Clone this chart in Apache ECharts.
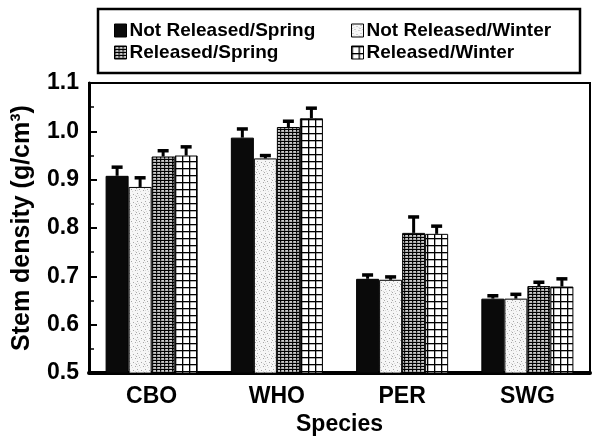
<!DOCTYPE html>
<html>
<head>
<meta charset="utf-8">
<script src="https://cdn.jsdelivr.net/npm/echarts@6/dist/echarts.min.js"></script>
<style>html,body{margin:0;padding:0;background:#fff}#c{width:593px;height:441px}</style>
</head>
<body>
<div id="c"></div>
<script>
// ---- data ----
const categories = ['CBO', 'WHO', 'PER', 'SWG'];
const seriesNames = ['Not Released/Spring', 'Not Released/Winter', 'Released/Spring', 'Released/Winter'];
const notReleasedSpring = [0.908, 0.987, 0.695, 0.654];
const notReleasedWinter = [0.885, 0.944, 0.693, 0.654];
const releasedSpring    = [0.948, 1.009, 0.790, 0.680];
const releasedWinter    = [0.950, 1.027, 0.788, 0.679];
const errNotReleasedSpring = [0.020, 0.020, 0.010, 0.008];
const errNotReleasedWinter = [0.021, 0.008, 0.008, 0.011];
const errReleasedSpring    = [0.014, 0.014, 0.035, 0.010];
const errReleasedWinter    = [0.020, 0.023, 0.018, 0.018];
const yTicks = ['0.5', '0.6', '0.7', '0.8', '0.9', '1.0', '1.1'];

const values = [notReleasedSpring, notReleasedWinter, releasedSpring, releasedWinter];
const errors = [errNotReleasedSpring, errNotReleasedWinter, errReleasedSpring, errReleasedWinter];

// ---- patterns ----
function makePattern(w, h, draw) {
  const c = document.createElement('canvas');
  c.width = w; c.height = h;
  const ctx = c.getContext('2d');
  ctx.fillStyle = '#fff'; ctx.fillRect(0, 0, w, h);
  draw(ctx);
  return { image: c, repeat: 'repeat' };
}
const patLight = makePattern(8, 8, ctx => {
  ctx.fillStyle = '#f6f6f6'; ctx.fillRect(0, 0, 8, 8);
  ctx.fillStyle = '#a8a8a8';
  [[1,1],[5,2],[3,5],[7,6],[0,4]].forEach(p => ctx.fillRect(p[0], p[1], 1, 1));
  ctx.fillStyle = '#d8d8d8';
  [[2,3],[4,7],[7,3],[1,6]].forEach(p => ctx.fillRect(p[0], p[1], 1, 1));
});
const patFine = makePattern(4, 3, ctx => {
  ctx.fillStyle = '#000';
  ctx.fillRect(0, 0, 4, 1.2);
  ctx.fillRect(0, 0, 1.2, 3);
  ctx.fillStyle = '#666';
  ctx.fillRect(0, 2, 4, 0.5);
});
const patGrid = makePattern(7, 7, ctx => {
  ctx.fillStyle = '#000';
  ctx.fillRect(0, 0, 7, 1.3);
  ctx.fillRect(0, 0, 1.3, 7);
});
const fills = ['#0a0a0a', patLight, patFine, patGrid];

const FONT = 'Liberation Sans';
const CAT_GAP = 0.265;

const barSeries = seriesNames.map((name, i) => ({
  name: name,
  type: 'bar',
  data: values[i],
  barGap: '0%',
  barCategoryGap: (CAT_GAP * 100) + '%',
  itemStyle: { color: fills[i], borderColor: '#000', borderWidth: 1 },
  z: 2
}));

const errData = [];
values.forEach((arr, si) => arr.forEach((v, ci) => errData.push([ci, si, v, errors[si][ci]])));

const errSeries = {
  type: 'custom',
  name: 'err',
  data: errData,
  encode: { x: 0, y: 2 },
  z: 5,
  renderItem: function (params, api) {
    const ci = api.value(0), si = api.value(1), v = api.value(2), e = api.value(3);
    const base = api.coord([ci, v]);
    const top = api.coord([ci, v + e]);
    const catW = api.size([1, 0])[0];
    const bw = catW * (1 - CAT_GAP) / 4;
    const x = base[0] + (si - 1.5) * bw;
    return {
      type: 'group',
      children: [
        { type: 'line', shape: { x1: x, y1: base[1], x2: x, y2: top[1] }, style: { stroke: '#000', lineWidth: 3 } },
        { type: 'line', shape: { x1: x - 5.5, y1: top[1] + 1, x2: x + 5.5, y2: top[1] + 1 }, style: { stroke: '#000', lineWidth: 3.5 } }
      ]
    };
  }
};

const legendCommon = {
  orient: 'vertical',
  icon: 'rect',
  itemWidth: 12,
  itemHeight: 13,
  itemGap: 3,
  padding: 0,
  textStyle: { fontFamily: FONT, fontWeight: 'bold', fontSize: 19, color: '#000', lineHeight: 16, padding: [0, 0, 0, -2] },
  itemStyle: { borderColor: '#000', borderWidth: 1 }
};

const chart = echarts.init(document.getElementById('c'), null, { renderer: 'canvas' });
chart.setOption({
  animation: false,
  backgroundColor: '#fff',
  graphic: [{
    type: 'rect',
    shape: { x: 98, y: 9, width: 482, height: 64 },
    style: { fill: 'none', stroke: '#000', lineWidth: 2.5 },
    z: 10
  }],
  legend: [
    Object.assign({}, legendCommon, { left: 114, top: 21, data: [seriesNames[0], seriesNames[2]] }),
    Object.assign({}, legendCommon, { left: 351, top: 21, data: [seriesNames[1], seriesNames[3]] })
  ],
  grid: {
    left: 89, right: 3, top: 83, bottom: 63,
    show: true, borderColor: '#000', borderWidth: 2, backgroundColor: 'transparent'
  },
  xAxis: {
    type: 'category',
    data: categories,
    name: 'Species',
    nameLocation: 'middle',
    nameGap: 34,
    nameTextStyle: { fontFamily: FONT, fontWeight: 'bold', fontSize: 23, color: '#000' },
    axisLine: { lineStyle: { color: '#000', width: 4 } },
    axisTick: { show: false },
    axisLabel: { fontFamily: FONT, fontWeight: 'bold', fontSize: 23, color: '#000', margin: 12 }
  },
  yAxis: {
    type: 'value',
    min: 0.5, max: 1.1, interval: 0.1,
    name: 'Stem density (g/cm³)',
    nameLocation: 'middle',
    nameGap: 54,
    nameTextStyle: { fontFamily: FONT, fontWeight: 'bold', fontSize: 25, color: '#000' },
    axisLine: { show: true, lineStyle: { color: '#000', width: 3 } },
    axisTick: { show: true, inside: true, length: 8, lineStyle: { color: '#000', width: 2 } },
    minorTick: { show: true, splitNumber: 2, length: 5, lineStyle: { color: '#000', width: 1.5 } },
    splitLine: { show: false },
    axisLabel: {
      fontFamily: FONT, fontWeight: 'bold', fontSize: 23, color: '#000', margin: 10,
      formatter: function (v) {
        const idx = Math.round((v - 0.5) / 0.1);
        return yTicks[idx] !== undefined ? yTicks[idx] : v.toFixed(1);
      }
    }
  },
  series: barSeries.concat([errSeries])
});
</script>
</body>
</html>
